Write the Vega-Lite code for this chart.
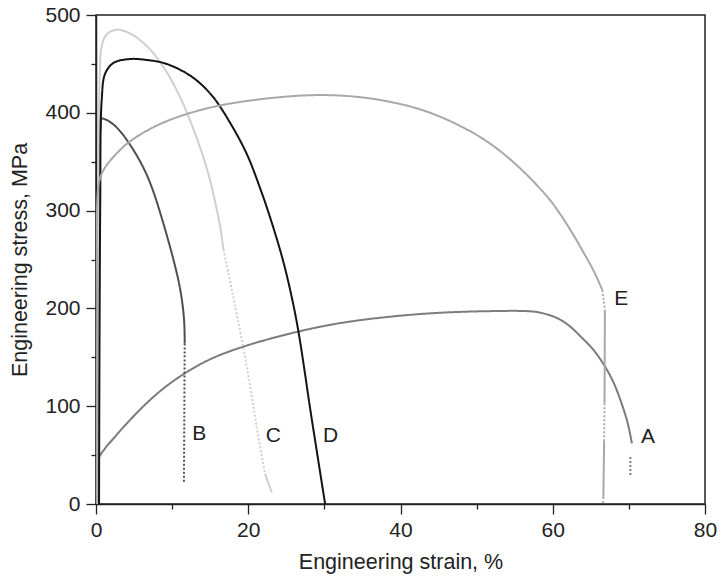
{
  "$schema": "https://vega.github.io/schema/vega-lite/v6.json",
  "autosize": "none",
  "width": 609,
  "height": 489,
  "padding": {"left": 96, "top": 15, "right": 16, "bottom": 72},
  "background": "white",
  "config": {
    "font": "Liberation Sans",
    "view": {"stroke": "#222", "strokeWidth": 1.5},
    "axis": {
      "domainColor": "#222",
      "domainWidth": 1.5,
      "tickColor": "#222",
      "tickWidth": 1.3,
      "labelFont": "Liberation Sans",
      "labelFontSize": 21,
      "labelColor": "#222",
      "titleFont": "Liberation Sans",
      "titleFontSize": 21.5,
      "titleFontWeight": "normal",
      "titleColor": "#222",
      "grid": false
    }
  },
  "datasets": {
    "curves": [
      {"curve": "A", "seg": "A1", "style": "solid", "strain": 0.05, "stress": 0},
      {"curve": "A", "seg": "A1", "style": "solid", "strain": 0.2, "stress": 44},
      {"curve": "A", "seg": "A1", "style": "solid", "strain": 1.2, "stress": 57},
      {"curve": "A", "seg": "A1", "style": "solid", "strain": 2.3, "stress": 67},
      {"curve": "A", "seg": "A1", "style": "solid", "strain": 4, "stress": 82},
      {"curve": "A", "seg": "A1", "style": "solid", "strain": 6.5, "stress": 102},
      {"curve": "A", "seg": "A1", "style": "solid", "strain": 9, "stress": 119},
      {"curve": "A", "seg": "A1", "style": "solid", "strain": 11.75, "stress": 134},
      {"curve": "A", "seg": "A1", "style": "solid", "strain": 15, "stress": 148},
      {"curve": "A", "seg": "A1", "style": "solid", "strain": 19.4, "stress": 161},
      {"curve": "A", "seg": "A1", "style": "solid", "strain": 26.4, "stress": 176},
      {"curve": "A", "seg": "A1", "style": "solid", "strain": 32.1, "stress": 185},
      {"curve": "A", "seg": "A1", "style": "solid", "strain": 38, "stress": 191},
      {"curve": "A", "seg": "A1", "style": "solid", "strain": 44, "stress": 195},
      {"curve": "A", "seg": "A1", "style": "solid", "strain": 50.5, "stress": 197},
      {"curve": "A", "seg": "A1", "style": "solid", "strain": 57.1, "stress": 197},
      {"curve": "A", "seg": "A1", "style": "solid", "strain": 58.7, "stress": 195},
      {"curve": "A", "seg": "A1", "style": "solid", "strain": 60.6, "stress": 190},
      {"curve": "A", "seg": "A1", "style": "solid", "strain": 62.2, "stress": 182},
      {"curve": "A", "seg": "A1", "style": "solid", "strain": 63.7, "stress": 171},
      {"curve": "A", "seg": "A1", "style": "solid", "strain": 65.3, "stress": 158},
      {"curve": "A", "seg": "A1", "style": "solid", "strain": 66.75, "stress": 142},
      {"curve": "A", "seg": "A1", "style": "solid", "strain": 68, "stress": 124},
      {"curve": "A", "seg": "A1", "style": "solid", "strain": 68.9, "stress": 106},
      {"curve": "A", "seg": "A1", "style": "solid", "strain": 69.8, "stress": 84},
      {"curve": "A", "seg": "A1", "style": "solid", "strain": 70.4, "stress": 62},
      {"curve": "A", "seg": "A2", "style": "dot", "strain": 70.2, "stress": 48},
      {"curve": "A", "seg": "A2", "style": "dot", "strain": 70.2, "stress": 29},

      {"curve": "B", "seg": "B1", "style": "solid", "strain": 0.3, "stress": 0},
      {"curve": "B", "seg": "B1", "style": "solid", "strain": 0.45, "stress": 300},
      {"curve": "B", "seg": "B1", "style": "solid", "strain": 0.55, "stress": 382},
      {"curve": "B", "seg": "B1", "style": "solid", "strain": 0.75, "stress": 394},
      {"curve": "B", "seg": "B1", "style": "solid", "strain": 1.3, "stress": 393},
      {"curve": "B", "seg": "B1", "style": "solid", "strain": 2.3, "stress": 388},
      {"curve": "B", "seg": "B1", "style": "solid", "strain": 3.4, "stress": 379},
      {"curve": "B", "seg": "B1", "style": "solid", "strain": 4.5, "stress": 367},
      {"curve": "B", "seg": "B1", "style": "solid", "strain": 5.6, "stress": 353},
      {"curve": "B", "seg": "B1", "style": "solid", "strain": 6.7, "stress": 336},
      {"curve": "B", "seg": "B1", "style": "solid", "strain": 7.6, "stress": 318},
      {"curve": "B", "seg": "B1", "style": "solid", "strain": 8.5, "stress": 296},
      {"curve": "B", "seg": "B1", "style": "solid", "strain": 9.4, "stress": 272},
      {"curve": "B", "seg": "B1", "style": "solid", "strain": 10.2, "stress": 249},
      {"curve": "B", "seg": "B1", "style": "solid", "strain": 10.9, "stress": 226},
      {"curve": "B", "seg": "B1", "style": "solid", "strain": 11.35, "stress": 205},
      {"curve": "B", "seg": "B1", "style": "solid", "strain": 11.6, "stress": 184},
      {"curve": "B", "seg": "B1", "style": "solid", "strain": 11.65, "stress": 164},
      {"curve": "B", "seg": "B2", "style": "dot", "strain": 11.65, "stress": 164},
      {"curve": "B", "seg": "B2", "style": "dot", "strain": 11.6, "stress": 90},
      {"curve": "B", "seg": "B2", "style": "dot", "strain": 11.55, "stress": 21},

      {"curve": "C", "seg": "C1", "style": "solid", "strain": 0.2, "stress": 0},
      {"curve": "C", "seg": "C1", "style": "solid", "strain": 0.35, "stress": 300},
      {"curve": "C", "seg": "C1", "style": "solid", "strain": 0.5, "stress": 440},
      {"curve": "C", "seg": "C1", "style": "solid", "strain": 0.75, "stress": 468},
      {"curve": "C", "seg": "C1", "style": "solid", "strain": 1.4, "stress": 480},
      {"curve": "C", "seg": "C1", "style": "solid", "strain": 2.7, "stress": 485},
      {"curve": "C", "seg": "C1", "style": "solid", "strain": 4.5, "stress": 481},
      {"curve": "C", "seg": "C1", "style": "solid", "strain": 6.7, "stress": 468},
      {"curve": "C", "seg": "C1", "style": "solid", "strain": 8.85, "stress": 447},
      {"curve": "C", "seg": "C1", "style": "solid", "strain": 11.05, "stress": 416},
      {"curve": "C", "seg": "C1", "style": "solid", "strain": 13.1, "stress": 377},
      {"curve": "C", "seg": "C1", "style": "solid", "strain": 14.6, "stress": 342},
      {"curve": "C", "seg": "C1", "style": "solid", "strain": 15.5, "stress": 314},
      {"curve": "C", "seg": "C1", "style": "solid", "strain": 16.3, "stress": 284},
      {"curve": "C", "seg": "C1", "style": "solid", "strain": 16.75, "stress": 260},
      {"curve": "C", "seg": "C2", "style": "dot", "strain": 16.75, "stress": 260},
      {"curve": "C", "seg": "C2", "style": "dot", "strain": 17.5, "stress": 232},
      {"curve": "C", "seg": "C2", "style": "dot", "strain": 18.2, "stress": 205},
      {"curve": "C", "seg": "C2", "style": "dot", "strain": 19.4, "stress": 158},
      {"curve": "C", "seg": "C2", "style": "dot", "strain": 20.3, "stress": 118},
      {"curve": "C", "seg": "C2", "style": "dot", "strain": 21.1, "stress": 79},
      {"curve": "C", "seg": "C2", "style": "dot", "strain": 22.2, "stress": 31},
      {"curve": "C", "seg": "C3", "style": "solid", "strain": 22.2, "stress": 31},
      {"curve": "C", "seg": "C3", "style": "solid", "strain": 22.7, "stress": 20},
      {"curve": "C", "seg": "C3", "style": "solid", "strain": 23.1, "stress": 12},

      {"curve": "D", "seg": "D1", "style": "solid", "strain": 0.4, "stress": 0},
      {"curve": "D", "seg": "D1", "style": "solid", "strain": 0.55, "stress": 300},
      {"curve": "D", "seg": "D1", "style": "solid", "strain": 0.75, "stress": 413},
      {"curve": "D", "seg": "D1", "style": "solid", "strain": 1.2, "stress": 440},
      {"curve": "D", "seg": "D1", "style": "solid", "strain": 2.3, "stress": 451},
      {"curve": "D", "seg": "D1", "style": "solid", "strain": 4.5, "stress": 455},
      {"curve": "D", "seg": "D1", "style": "solid", "strain": 6.7, "stress": 454},
      {"curve": "D", "seg": "D1", "style": "solid", "strain": 8.85, "stress": 451},
      {"curve": "D", "seg": "D1", "style": "solid", "strain": 11.05, "stress": 444},
      {"curve": "D", "seg": "D1", "style": "solid", "strain": 13.25, "stress": 433},
      {"curve": "D", "seg": "D1", "style": "solid", "strain": 15.4, "stress": 416},
      {"curve": "D", "seg": "D1", "style": "solid", "strain": 17.6, "stress": 390},
      {"curve": "D", "seg": "D1", "style": "solid", "strain": 19.8, "stress": 358},
      {"curve": "D", "seg": "D1", "style": "solid", "strain": 21.6, "stress": 322},
      {"curve": "D", "seg": "D1", "style": "solid", "strain": 23.2, "stress": 285},
      {"curve": "D", "seg": "D1", "style": "solid", "strain": 24.6, "stress": 248},
      {"curve": "D", "seg": "D1", "style": "solid", "strain": 25.7, "stress": 212},
      {"curve": "D", "seg": "D1", "style": "solid", "strain": 26.6, "stress": 176},
      {"curve": "D", "seg": "D1", "style": "solid", "strain": 28.3, "stress": 89},
      {"curve": "D", "seg": "D1", "style": "solid", "strain": 30.1, "stress": 0},

      {"curve": "E", "seg": "E1", "style": "solid", "strain": 0.1, "stress": 0},
      {"curve": "E", "seg": "E1", "style": "solid", "strain": 0.15, "stress": 200},
      {"curve": "E", "seg": "E1", "style": "solid", "strain": 0.2, "stress": 315},
      {"curve": "E", "seg": "E1", "style": "solid", "strain": 0.45, "stress": 331},
      {"curve": "E", "seg": "E1", "style": "solid", "strain": 1.1, "stress": 343},
      {"curve": "E", "seg": "E1", "style": "solid", "strain": 2.3, "stress": 355},
      {"curve": "E", "seg": "E1", "style": "solid", "strain": 4.5, "stress": 371},
      {"curve": "E", "seg": "E1", "style": "solid", "strain": 8.85, "stress": 390},
      {"curve": "E", "seg": "E1", "style": "solid", "strain": 15.4, "stress": 406},
      {"curve": "E", "seg": "E1", "style": "solid", "strain": 24.2, "stress": 416},
      {"curve": "E", "seg": "E1", "style": "solid", "strain": 30.8, "stress": 418},
      {"curve": "E", "seg": "E1", "style": "solid", "strain": 37.4, "stress": 413},
      {"curve": "E", "seg": "E1", "style": "solid", "strain": 43.9, "stress": 400},
      {"curve": "E", "seg": "E1", "style": "solid", "strain": 50.5, "stress": 375},
      {"curve": "E", "seg": "E1", "style": "solid", "strain": 54.9, "stress": 349},
      {"curve": "E", "seg": "E1", "style": "solid", "strain": 59.3, "stress": 314},
      {"curve": "E", "seg": "E1", "style": "solid", "strain": 61.1, "stress": 295},
      {"curve": "E", "seg": "E1", "style": "solid", "strain": 62.8, "stress": 274},
      {"curve": "E", "seg": "E1", "style": "solid", "strain": 64.2, "stress": 255},
      {"curve": "E", "seg": "E1", "style": "solid", "strain": 65.4, "stress": 238},
      {"curve": "E", "seg": "E1", "style": "solid", "strain": 66.5, "stress": 219},
      {"curve": "E", "seg": "E2", "style": "dot", "strain": 66.5, "stress": 219},
      {"curve": "E", "seg": "E2", "style": "dot", "strain": 66.85, "stress": 198},
      {"curve": "E", "seg": "E3", "style": "solid", "strain": 66.85, "stress": 198},
      {"curve": "E", "seg": "E3", "style": "solid", "strain": 66.8, "stress": 103},
      {"curve": "E", "seg": "E4", "style": "dot", "strain": 66.8, "stress": 103},
      {"curve": "E", "seg": "E4", "style": "dot", "strain": 66.75, "stress": 65},
      {"curve": "E", "seg": "E5", "style": "solid", "strain": 66.75, "stress": 65},
      {"curve": "E", "seg": "E5", "style": "solid", "strain": 66.65, "stress": 7},
      {"curve": "E", "seg": "E6", "style": "dot", "strain": 66.65, "stress": 7},
      {"curve": "E", "seg": "E6", "style": "dot", "strain": 66.6, "stress": 0}
    ],
    "labels": [
      {"curve": "A", "strain": 72.5, "stress": 69},
      {"curve": "B", "strain": 13.55, "stress": 72},
      {"curve": "C", "strain": 23.3, "stress": 70},
      {"curve": "D", "strain": 30.8, "stress": 70},
      {"curve": "E", "strain": 69, "stress": 210}
    ]
  },
  "layer": [
    {
      "data": {"name": "curves"},
      "mark": {"type": "line", "strokeWidth": 2, "clip": true, "interpolate": "catmull-rom"},
      "encoding": {
        "x": {
          "field": "strain", "type": "quantitative",
          "scale": {"domain": [0, 80], "nice": false, "zero": false},
          "axis": {
            "title": "Engineering strain, %",
            "values": [0, 10, 20, 30, 40, 50, 60, 70, 80],
            "labelExpr": "datum.value % 20 === 0 ? datum.label : ''",
            "tickSize": {"condition": {"test": "datum.value % 20 === 0", "value": 10}, "value": 5},
            "labelPadding": 5,
            "titlePadding": 11,
            "labelFlush": false
          }
        },
        "y": {
          "field": "stress", "type": "quantitative",
          "scale": {"domain": [0, 500], "nice": false},
          "axis": {
            "title": "Engineering stress, MPa",
            "values": [0, 50, 100, 150, 200, 250, 300, 350, 400, 450, 500],
            "labelExpr": "datum.value % 100 === 0 ? datum.label : ''",
            "tickSize": {"condition": {"test": "datum.value % 100 === 0", "value": 10}, "value": 5},
            "labelPadding": 6,
            "titlePadding": 13,
            "labelFlush": false
          }
        },
        "detail": {"field": "seg"},
        "order": {"value": null},
        "color": {
          "field": "curve", "type": "nominal", "legend": null,
          "scale": {"domain": ["A", "B", "C", "D", "E"], "range": ["#7c7c7c", "#505050", "#cfcfcf", "#141414", "#a8a8a8"]}
        },
        "strokeDash": {
          "field": "style", "type": "nominal", "legend": null,
          "scale": {"domain": ["solid", "dot"], "range": [[1, 0], [2, 2]]}
        }
      }
    },
    {
      "data": {"name": "labels"},
      "mark": {"type": "text", "fontSize": 21, "font": "Liberation Sans", "color": "#222", "align": "center", "baseline": "middle"},
      "encoding": {
        "x": {"field": "strain", "type": "quantitative"},
        "y": {"field": "stress", "type": "quantitative"},
        "text": {"field": "curve"}
      }
    }
  ]
}
